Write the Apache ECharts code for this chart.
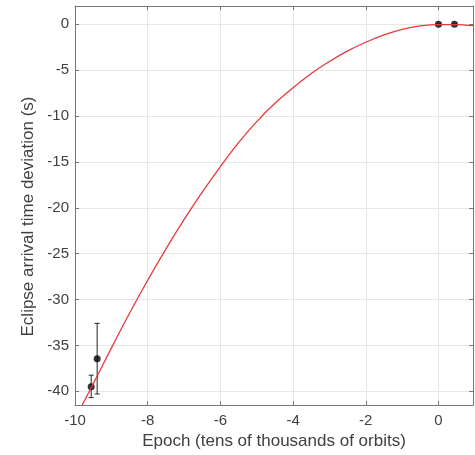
<!DOCTYPE html>
<html><head><meta charset="utf-8">
<script src="https://cdn.jsdelivr.net/npm/echarts@6/dist/echarts.min.js"></script>
<style>html,body{margin:0;padding:0;background:#fff}#c{width:475px;height:455px}</style>
</head><body><div id="c"></div>
<script>
// Fitted model curve
const curveX = [-9.8, -9.5, -9.0, -8.5, -8.0, -7.5, -7.0, -6.5, -6.0, -5.5, -5.0, -4.5, -4.0, -3.5, -3.0, -2.5, -2.0, -1.5, -1.0, -0.5, 0, 0.5, 0.95];
const curveY = [-41.5, -39.2, -35.3, -31.5, -27.9, -24.5, -21.3, -18.3, -15.5, -12.9, -10.6, -8.6, -6.9, -5.35, -4.05, -2.9, -1.95, -1.15, -0.55, -0.17, -0.02, -0.02, -0.15];
// Observed eclipse timings
const obsX = [-9.555, -9.39, 0, 0.44];
const obsY = [-39.5, -36.45, 0, 0];
const errLow = [-40.7, -40.3, 0, 0];
const errHigh = [-38.25, -32.6, 0, 0];
const xTicks = [-10, -8, -6, -4, -2, 0];
const yTicks = [-40, -35, -30, -25, -20, -15, -10, -5, 0];

const chart = echarts.init(document.getElementById('c'));
const axisColor = '#777';
const gridColor = '#e6e6e6';
const labelColor = '#404040';
const font = 'Liberation Sans, Arial, sans-serif';
const tickStyle = {show: true, inside: true, length: 4, lineStyle: {color: axisColor}};
chart.setOption({
  animation: false,
  grid: {left: 75, right: 2, top: 6, bottom: 48, containLabel: false},
  xAxis: [{
    type: 'value', min: -10, max: 0.95,
    name: 'Epoch (tens of thousands of orbits)', nameLocation: 'middle', nameGap: 28,
    nameTextStyle: {fontSize: 17, color: labelColor, fontFamily: font},
    axisLine: {show: true, onZero: false, lineStyle: {color: axisColor}},
    axisTick: Object.assign({customValues: xTicks}, tickStyle),
    axisLabel: {customValues: xTicks, fontSize: 15, color: labelColor, fontFamily: font, margin: 8},
    splitLine: {show: true, lineStyle: {color: gridColor}}
  }, {
    type: 'value', min: -10, max: 0.95, position: 'top',
    axisLine: {show: true, onZero: false, lineStyle: {color: axisColor}},
    axisTick: Object.assign({customValues: xTicks}, tickStyle),
    axisLabel: {show: false}, splitLine: {show: false}
  }],
  yAxis: [{
    type: 'value', min: -41.5, max: 2,
    name: 'Eclipse arrival time deviation (s)', nameLocation: 'middle', nameGap: 36,
    nameTextStyle: {fontSize: 17, color: labelColor, fontFamily: font, padding: [0, 22, 0, 0]},
    axisLine: {show: true, onZero: false, lineStyle: {color: axisColor}},
    axisTick: Object.assign({customValues: yTicks}, tickStyle),
    axisLabel: {customValues: yTicks, fontSize: 15, color: labelColor, fontFamily: font, margin: 6},
    splitLine: {show: true, lineStyle: {color: gridColor}}
  }, {
    type: 'value', min: -41.5, max: 2, position: 'right',
    axisLine: {show: true, onZero: false, lineStyle: {color: axisColor}},
    axisTick: Object.assign({customValues: yTicks}, tickStyle),
    axisLabel: {show: false}, splitLine: {show: false}
  }],
  series: [{
    type: 'line', smooth: 0.3, symbol: 'none', clip: true,
    data: curveX.map((x, i) => [x, curveY[i]]),
    lineStyle: {color: '#e8383a', width: 1.3}
  }, {
    type: 'custom', clip: true,
    data: obsX.map((x, i) => [x, errLow[i], errHigh[i]]),
    renderItem: function (params, api) {
      const lo = api.coord([api.value(0), api.value(1)]);
      const hi = api.coord([api.value(0), api.value(2)]);
      const st = {stroke: '#222', lineWidth: 1};
      return {type: 'group', children: [
        {type: 'line', shape: {x1: lo[0], y1: lo[1], x2: hi[0], y2: hi[1]}, style: st},
        {type: 'line', shape: {x1: lo[0]-2.5, y1: lo[1], x2: lo[0]+2.5, y2: lo[1]}, style: st},
        {type: 'line', shape: {x1: hi[0]-2.5, y1: hi[1], x2: hi[0]+2.5, y2: hi[1]}, style: st}
      ]};
    }
  }, {
    type: 'scatter', symbol: 'circle', symbolSize: 7,
    data: obsX.map((x, i) => [x, obsY[i]]),
    itemStyle: {color: '#000'}
  }]
});
</script></body></html>
